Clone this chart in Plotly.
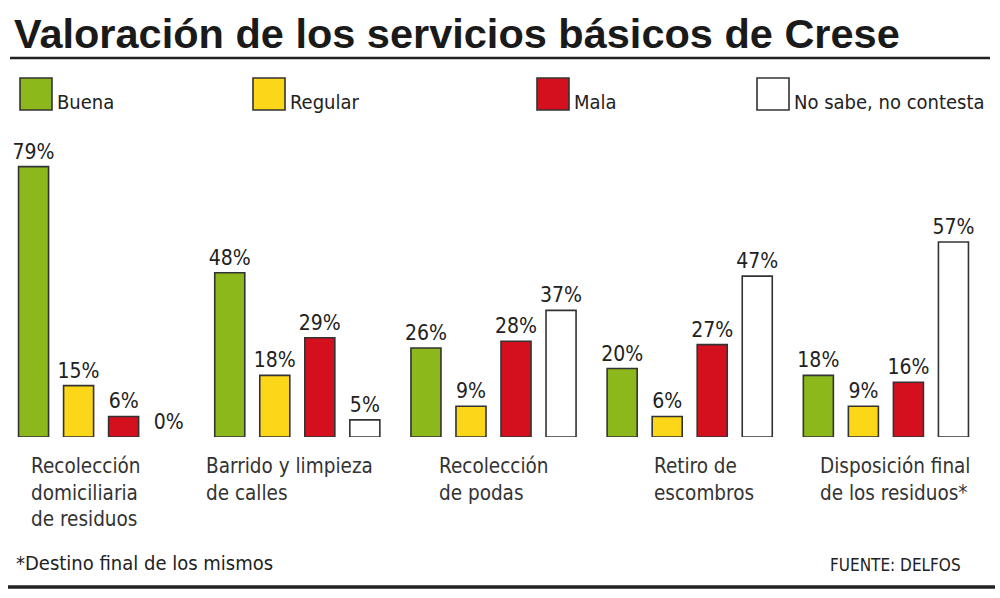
import plotly.graph_objects as go

# ---- data ----
categories = [
    "Recolección<br>domiciliaria<br>de residuos",
    "Barrido y limpieza<br>de calles",
    "Recolección<br>de podas",
    "Retiro de<br>escombros",
    "Disposición final<br>de los residuos*",
]
series_names = ["Buena", "Regular", "Mala", "No sabe, no contesta"]
buena = [79, 48, 26, 20, 18]
regular = [15, 18, 9, 6, 9]
mala = [6, 29, 28, 27, 16]
nsnc = [0, 5, 37, 47, 57]
title_text = "Valoración de los servicios básicos de Crese"
footnote_text = "*Destino final de los mismos"
source_text = "FUENTE: DELFOS"

# ---- styles ----
colors = ["#8cb81c", "#fbd619", "#d4101e", "#ffffff"]
W, H = 1000, 598
NARROW = "DejaVu Sans Condensed, Liberation Sans Narrow, Arial Narrow, sans-serif"
BOLD = "Liberation Sans, Arial, Helvetica, sans-serif"
TXT = "#222222"


def px(x):
    return x / W


def py(y):
    return 1 - y / H


fig = go.Figure()
for name, vals, col in zip(series_names, [buena, regular, mala, nsnc], colors):
    fig.add_trace(go.Bar(
        name=name,
        x=categories,
        y=vals,
        marker=dict(color=col,
                    line=dict(color="#333333",
                              width=[0 if v == 0 else 1.6 for v in vals])),
        text=[f"{v}%" for v in vals],
        textposition="outside",
        constraintext="none",
        cliponaxis=False,
        textfont=dict(family=NARROW, size=21, color=TXT),
        hoverinfo="skip",
    ))

shapes = [
    dict(type="line", xref="paper", yref="paper", x0=px(10), x1=px(990),
         y0=py(58), y1=py(58), line=dict(color="#222222", width=2.5)),
    dict(type="line", xref="paper", yref="paper", x0=px(8), x1=px(995),
         y0=py(587), y1=py(587), line=dict(color="#222222", width=3.5)),
]
annotations = [
    dict(text=f"<b>{title_text}</b>", xref="paper", yref="paper",
         x=px(12), y=py(34), xanchor="left", yanchor="middle", showarrow=False,
         font=dict(family=BOLD, size=41.5, color="#1a1a1a")),
    dict(text=footnote_text, xref="paper", yref="paper",
         x=px(14), y=py(563), xanchor="left", yanchor="middle", showarrow=False,
         font=dict(family=NARROW, size=20, color=TXT)),
    dict(text=source_text, xref="paper", yref="paper",
         x=px(963), y=py(565), xanchor="right", yanchor="middle", showarrow=False,
         font=dict(family=NARROW, size=17, color=TXT)),
]

# legend (drawn manually to match the large swatches)
legend_x = [20, 253, 537, 757]
for name, col, lx in zip(series_names, colors, legend_x):
    shapes.append(dict(type="rect", xref="paper", yref="paper",
                       x0=px(lx), x1=px(lx + 32), y0=py(110), y1=py(78),
                       fillcolor=col, line=dict(color="#333333", width=1.6)))
    annotations.append(dict(text=name, xref="paper", yref="paper",
                            x=px(lx + 35), y=py(102), xanchor="left",
                            yanchor="middle", showarrow=False,
                            font=dict(family=NARROW, size=20, color=TXT)))

# category labels (left-aligned lines, block roughly centred under group)
label_shift = [-15, -8, 0, 14, 10]
for cat, sh in zip(categories, label_shift):
    annotations.append(dict(text=cat, xref="x", yref="paper", x=cat,
                            xshift=sh, y=py(452), xanchor="center",
                            yanchor="top", align="left", showarrow=False,
                            font=dict(family=NARROW, size=20.5, color="#333333")))

fig.update_layout(
    width=W, height=H,
    margin=dict(l=0, r=0, t=0, b=0),
    paper_bgcolor="white", plot_bgcolor="white",
    barmode="group", bargap=0.082, bargroupgap=0.333,
    showlegend=False,
    xaxis=dict(domain=[px(3), px(984)], showticklabels=False, showgrid=False,
               zeroline=False, showline=False, fixedrange=True),
    yaxis=dict(domain=[py(437), py(129)], range=[0, 90], showticklabels=False,
               showgrid=False, zeroline=False, showline=False, fixedrange=True),
    shapes=shapes,
    annotations=annotations,
)

fig.write_html("out.html")
